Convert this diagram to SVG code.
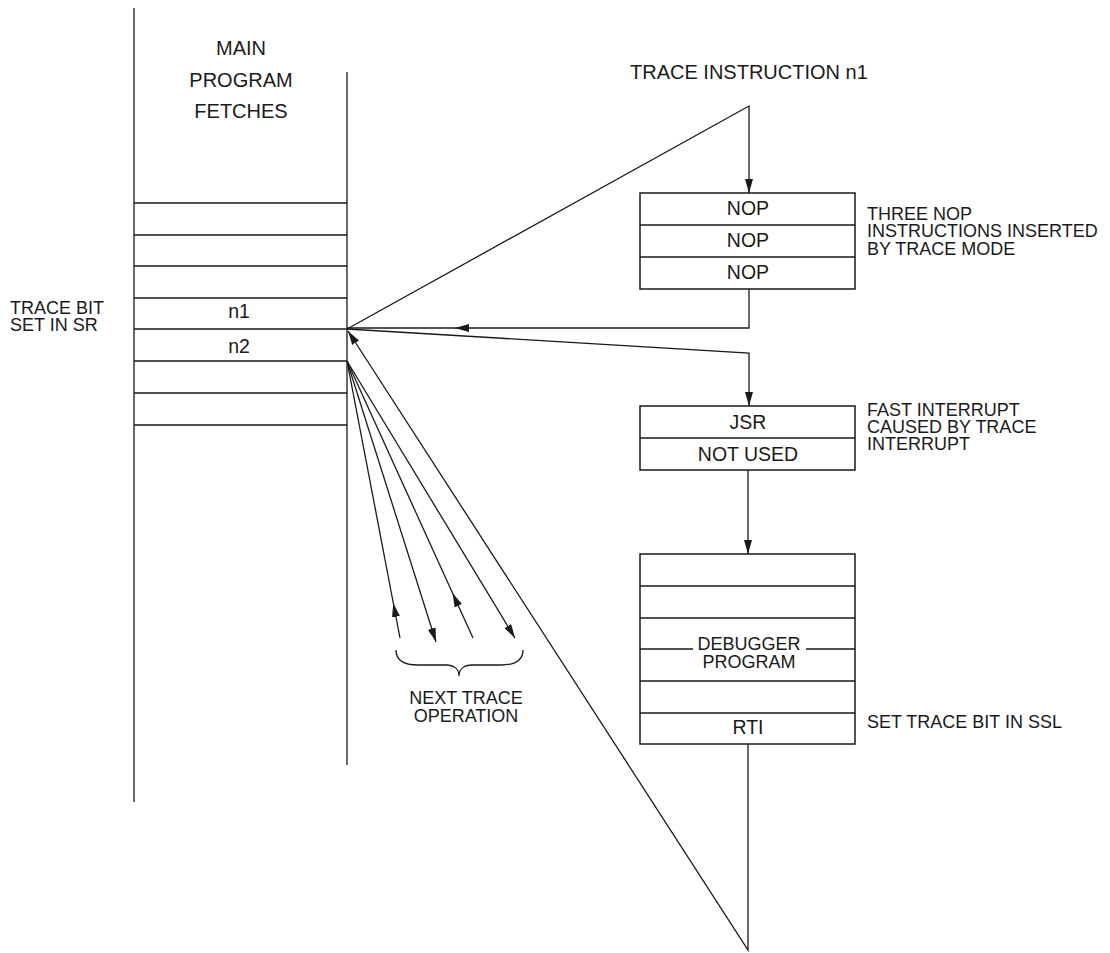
<svg xmlns="http://www.w3.org/2000/svg" width="1110" height="953" viewBox="0 0 1110 953">
<defs>
<style>
.ln{stroke:#1a1a1a;stroke-width:1.3;fill:none}
.bx{stroke:#1a1a1a;stroke-width:1.5;fill:#fff}
.t{font-family:"Liberation Sans",Arial,sans-serif;fill:#1a1a1a}
.c{text-anchor:middle}
.big{font-size:20px}
.med{font-size:19.5px}
.sm{font-size:18px}
</style>
<marker id="ah" viewBox="0 0 14 8" refX="14" refY="4" markerWidth="14" markerHeight="8" markerUnits="userSpaceOnUse" orient="auto">
<path d="M0,0 L14,4 L0,8 z" fill="#1a1a1a"/>
</marker>
</defs>
<rect width="1110" height="953" fill="#fff"/>

<g id="main-program">
<line class="ln" x1="134" y1="8" x2="134" y2="802"/>
<line class="ln" x1="347" y1="72" x2="347" y2="765"/>
<g class="ln">
<line x1="134" y1="203" x2="347" y2="203"/>
<line x1="134" y1="235" x2="347" y2="235"/>
<line x1="134" y1="266" x2="347" y2="266"/>
<line x1="134" y1="298" x2="347" y2="298"/>
<line x1="134" y1="329" x2="347" y2="329"/>
<line x1="134" y1="361" x2="347" y2="361"/>
<line x1="134" y1="393" x2="347" y2="393"/>
<line x1="134" y1="425" x2="347" y2="425"/>
</g>
<text class="t big c" x="241" y="55">MAIN</text>
<text class="t big c" x="241" y="87">PROGRAM</text>
<text class="t big c" x="241" y="118">FETCHES</text>
<text class="t med c" x="239" y="318">n1</text>
<text class="t med c" x="239" y="353">n2</text>
</g>

<g id="trace-bit-label">
<text class="t sm" x="10" y="314">TRACE BIT</text>
<text class="t sm" x="10" y="331">SET IN SR</text>
</g>

<g id="trace-instruction-label">
<text class="t big" x="630" y="79">TRACE INSTRUCTION n1</text>
</g>

<g id="nop-box">
<rect class="bx" x="640" y="193" width="215" height="96"/>
<line class="ln" x1="640" y1="225" x2="855" y2="225"/>
<line class="ln" x1="640" y1="257" x2="855" y2="257"/>
<text class="t med c" x="748" y="215">NOP</text>
<text class="t med c" x="748" y="247">NOP</text>
<text class="t med c" x="748" y="279">NOP</text>
<text class="t sm" x="867" y="220">THREE NOP</text>
<text class="t sm" x="867" y="237">INSTRUCTIONS INSERTED</text>
<text class="t sm" x="867" y="255">BY TRACE MODE</text>
</g>

<g id="jsr-box">
<rect class="bx" x="640" y="406" width="215" height="64"/>
<line class="ln" x1="640" y1="438" x2="855" y2="438"/>
<text class="t med c" x="748" y="429">JSR</text>
<text class="t med c" x="748" y="461">NOT USED</text>
<text class="t sm" x="867" y="416">FAST INTERRUPT</text>
<text class="t sm" x="867" y="433">CAUSED BY TRACE</text>
<text class="t sm" x="867" y="450">INTERRUPT</text>
</g>

<g id="debugger-box">
<rect class="bx" x="640" y="554" width="215" height="190"/>
<line class="ln" x1="640" y1="586" x2="855" y2="586"/>
<line class="ln" x1="640" y1="618" x2="855" y2="618"/>
<line class="ln" x1="640" y1="649" x2="693" y2="649"/>
<line class="ln" x1="806" y1="649" x2="855" y2="649"/>
<line class="ln" x1="640" y1="681" x2="855" y2="681"/>
<line class="ln" x1="640" y1="713" x2="855" y2="713"/>
<text class="t sm c" x="749" y="650">DEBUGGER</text>
<text class="t sm c" x="749" y="668">PROGRAM</text>
<text class="t med c" x="748" y="734">RTI</text>
<text class="t sm" x="867" y="728">SET TRACE BIT IN SSL</text>
</g>

<g id="next-trace-label">
<path class="ln" d="M396,650 C396,661 404,665 418,665 L446,665 C454,665 459,669 459,676 C459,669 464,665 472,665 L501,665 C515,665 523,661 523,650"/>
<text class="t sm c" x="466" y="704">NEXT TRACE</text>
<text class="t sm c" x="466" y="722">OPERATION</text>
</g>

<g id="connectors">
<path class="ln" d="M347,329 L749,106 L749,193" marker-end="url(#ah)"/>
<path class="ln" d="M749,289 L749,328 L455,328" marker-end="url(#ah)"/>
<line class="ln" x1="455" y1="328" x2="347" y2="328"/>
<path class="ln" d="M347,329 L749,353 L749,406" marker-end="url(#ah)"/>
<path class="ln" d="M748,470 L748,554" marker-end="url(#ah)"/>
<path class="ln" d="M748,744 L748,950 L348,331" marker-end="url(#ah)"/>
<line class="ln" x1="347" y1="361" x2="393.3" y2="603"/>
<path class="ln" d="M400,638 L393.3,603" marker-end="url(#ah)"/>
<path class="ln" d="M347,361 L436,642" marker-end="url(#ah)"/>
<line class="ln" x1="347" y1="361" x2="452.5" y2="593"/>
<path class="ln" d="M473,638 L452.5,593" marker-end="url(#ah)"/>
<path class="ln" d="M347,361 L515,638" marker-end="url(#ah)"/>
</g>
</svg>
